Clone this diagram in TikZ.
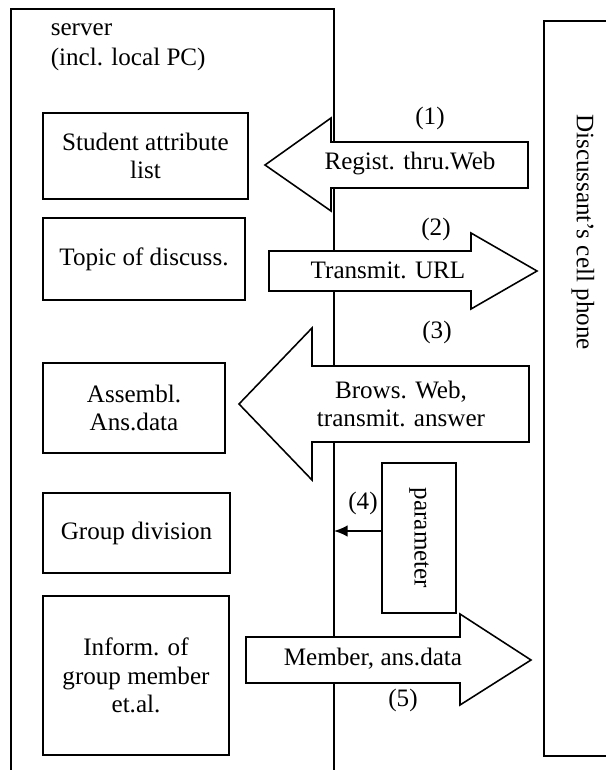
\documentclass[tikz,border=0pt]{standalone}
\usepackage{fontspec}
\setmainfont{Liberation Serif}
\usetikzlibrary{arrows.meta}
\begin{document}
\begin{tikzpicture}[
  x=0.0168cm, y=-0.0168cm,
  line width=0.75pt,
  font=\fontsize{12}{13.5}\selectfont,
  box/.style={draw, align=center, inner sep=2pt},
  bigarrow/.style={draw, fill=white, line join=miter},
  numlabel/.style={inner sep=1pt}]

  \useasboundingbox (0,0) rectangle (606,770);
  \node[anchor=north west, align=left, inner sep=0pt] (server) at (50,23) {server\\[1pt](incl. local PC)};
  \draw (606,21) -- (544,21) -- (544,756) -- (606,756);
  \node[rotate=-90] (phone) at (583,232) {Discussant’s cell phone};

  \node[box, minimum width=3.444cm, minimum height=1.445cm] (studlist) at (145.5,156) {Student attribute\\list};
  \node[box, minimum width=3.394cm, minimum height=1.378cm] (topic) at (144,259) {Topic of discuss.};
  \node[box, minimum width=3.058cm, minimum height=1.512cm] (assembl) at (134,408) {Assembl.\\Ans.data};
  \node[box, minimum width=3.142cm, minimum height=1.344cm] (groupdiv) at (136.5,533) {Group division};
  \node[box, minimum width=3.125cm, minimum height=2.671cm] (inform) at (136,675.5) {Inform. of\\group member\\et.al.};
  \node[box, rotate=-90, minimum width=2.52cm, minimum height=1.243cm] (param) at (419,538) {parameter};

  \draw[bigarrow] (528,142) -- (331,142) -- (331,118) -- (265,165) -- (331,211) -- (331,188) -- (528,188) -- cycle;
  \node (regist) at (410,164) {Regist. thru.Web};
  \node[numlabel] (n1) at (430,118) {(1)};

  \draw[bigarrow] (269,251) -- (471,251) -- (471,233) -- (537,271) -- (471,309) -- (471,291) -- (269,291) -- cycle;
  \node (transmit) at (388,270) {Transmit. URL};
  \node[numlabel] (n2) at (436,229) {(2)};

  \draw[bigarrow] (529,366) -- (312,366) -- (312,328) -- (239,404) -- (312,480) -- (312,442) -- (529,442) -- cycle;
  \node[align=center] (brows) at (401,404) {Brows. Web,\\transmit. answer};
  \node[numlabel] (n3) at (437,332) {(3)};

  \draw[bigarrow] (246,637) -- (460,637) -- (460,614) -- (531,660) -- (460,705) -- (460,683) -- (246,683) -- cycle;
  \node (member) at (373,659) {Member, ans.data};
  \node[numlabel] (n5) at (403,700) {(5)};

  \draw (11,770) -- (11,9) -- (334,9) -- (334,142)
    (334,188) -- (334,251) (334,291) -- (334,366)
    (334,442) -- (334,637) (334,683) -- (334,770);

  \coordinate (srvedge) at (334,531);
  \draw[-{Latex[length=6.5pt,width=5.5pt]}] (param.south |- srvedge) -- (srvedge);
  \node[numlabel] (n4) at (363,503) {(4)};
\end{tikzpicture}
\end{document}
